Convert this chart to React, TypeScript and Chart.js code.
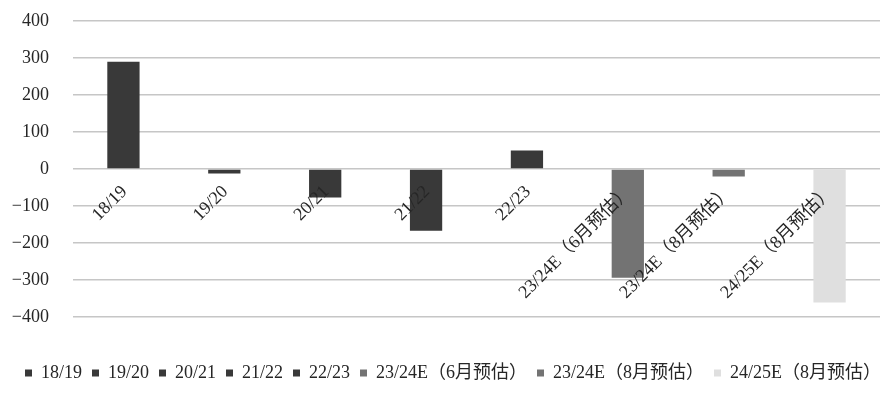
import React, { useEffect, useRef } from "react";
import { Chart, registerables } from "chart.js";

Chart.register(...registerables);

const categories = [
  "18/19",
  "19/20",
  "20/21",
  "21/22",
  "22/23",
  "23/24E（6月预估）",
  "23/24E（8月预估）",
  "24/25E（8月预估）",
];
const values = [290, -12, -77, -167, 50, -294, -20, -361];
const barColors = [
  "#393939",
  "#393939",
  "#393939",
  "#393939",
  "#393939",
  "#737373",
  "#737373",
  "#dfdfdf",
];
const yMin = -400;
const yMax = 400;
const yStep = 100;

const FONT = "'Liberation Serif', 'Noto Sans CJK SC', serif";
const TEXT = "#262626";
const FS = 18;

const zeroLabels = {
  id: "zeroLabels",
  afterDatasetsDraw(chart: any) {
    const x = chart.scales.x;
    const y = chart.scales.y;
    const y0 = y.getPixelForValue(0);
    const ctx = chart.ctx;
    ctx.save();
    ctx.font = `${FS}px ${FONT}`;
    ctx.fillStyle = TEXT;
    ctx.textAlign = "right";
    ctx.textBaseline = "middle";
    categories.forEach((c, i) => {
      const px = x.getPixelForTick(i);
      ctx.save();
      ctx.translate(px + 1, y0 + 20);
      ctx.rotate(-Math.PI / 4);
      ctx.fillText(c, 0, 0);
      ctx.restore();
    });
    ctx.restore();
  },
};

const legendShift = {
  id: "legendShift",
  beforeDraw(chart: any) {
    const lg = chart.legend;
    if (lg && !lg._shifted) {
      lg.left += 13;
      lg.right += 13;
      lg._shifted = true;
    }
  },
};

export default function App() {
  const ref = useRef<HTMLCanvasElement | null>(null);
  useEffect(() => {
    document.body.style.margin = "0";
    const ctx = ref.current!;
    const chart = new Chart(ctx, {
      type: "bar",
      data: {
        labels: categories,
        datasets: categories.map((c, i) => ({
          label: c,
          data: values.map((v, j) => (j === i ? v : null)),
          backgroundColor: barColors[i],
          borderWidth: 0,
          skipNull: true,
          barPercentage: 0.32,
          categoryPercentage: 1,
        })) as any,
      },
      options: {
        animation: false,
        responsive: true,
        maintainAspectRatio: false,
        layout: { padding: { left: 0, right: 11, top: 21, bottom: 3 } },
        plugins: {
          tooltip: { enabled: false },
          legend: {
            position: "bottom",
            title: {
              display: true,
              text: " ",
              font: { size: 10 },
              padding: { top: 25, bottom: 0 },
            },
            labels: {
              boxWidth: 7,
              boxHeight: 7,
              padding: 10,
              color: TEXT,
              font: { family: FONT, size: FS },
            },
          },
        },
        scales: {
          x: {
            grid: { display: false, drawTicks: false },
            border: { display: false },
            ticks: { display: false },
          },
          y: {
            min: yMin,
            max: yMax,
            afterFit: (s: any) => {
              s.width = 73;
              s.paddingTop = 0;
              s.paddingBottom = 0;
            },
            grid: { color: "#c6c6c6", lineWidth: 1.5, drawTicks: false },
            border: { display: false },
            ticks: {
              stepSize: yStep,
              padding: 24,
              color: TEXT,
              font: { family: FONT, size: FS },
              callback: (v: any) => (Number(v) < 0 ? "−" + Math.abs(Number(v)) : String(v)),
            },
          },
        },
      },
      plugins: [zeroLabels, legendShift],
    });
    return () => chart.destroy();
  }, []);
  return (
    <div style={{ position: "fixed", left: 0, top: 0, width: 891, height: 395 }}>
      <canvas ref={ref} />
    </div>
  );
}
